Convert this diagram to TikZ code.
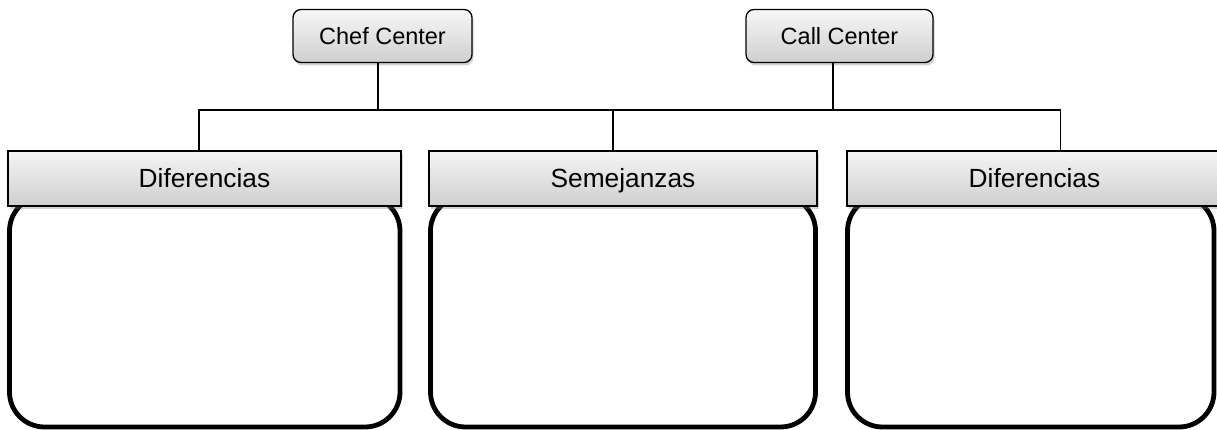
\documentclass[tikz,border=0pt]{standalone}
\usepackage{fontspec}
\setmainfont{Liberation Sans}
\usetikzlibrary{shadows,calc}
\begin{document}
\begin{tikzpicture}[x=1pt,y=-1pt,
  topbox/.style={draw=black, line width=1.3pt, rounded corners=8pt,
    top color=gray!6, bottom color=gray!38,
    drop shadow={shadow xshift=1.5pt, shadow yshift=-3pt, opacity=0.35},
    minimum width=179pt, minimum height=53pt, inner sep=0pt,
    text height=16.8pt, text depth=0pt,
    font=\fontsize{23.5}{27}\selectfont},
  headbox/.style={draw=black, line width=1.3pt,
    top color=gray!8, bottom color=gray!38,
    drop shadow={shadow xshift=1.5pt, shadow yshift=-3pt, opacity=0.35},
    minimum height=55pt, inner sep=0pt,
    text height=18.8pt, text depth=0pt,
    font=\fontsize{26.3}{30}\selectfont},
  contentbox/.style={draw=black, line width=4.8pt, rounded corners=35pt,
    fill=white, inner sep=0pt, minimum height=231pt},
  link/.style={draw=black, line width=1.5pt}]
\useasboundingbox (0,0) rectangle (1217,430);
\clip (0,0) rectangle (1217,430);

% top boxes
\node[topbox] (chef) at (382.5,36) {Chef Center};
\node[topbox, minimum width=187pt] (call) at (839.5,36) {Call Center};

% content boxes
\node[contentbox, minimum width=390.5pt] (c1) at (204.75,311.5) {};
\node[contentbox, minimum width=385pt] (c2) at (623,311.5) {};
\node[contentbox, minimum width=366.5pt] (c3) at (1030.75,311.5) {};

% header boxes
\node[headbox, minimum width=393pt] (h1) at (204.5,178.5) {Diferencias};
\node[headbox, minimum width=388pt] (h2) at (623,178.5) {Semejanzas};
\node[headbox, minimum width=375pt] (h3) at (1034.5,178.5) {Diferencias};

% connectors
\coordinate (bus) at (0,110);
\coordinate (d1) at ($(h1.north)+(-5.5,0)$);
\coordinate (d2) at ($(h2.north)+(-10,0)$);
\coordinate (d3) at ($(h3.north)+(26,0)$);
\coordinate (u1) at ($(chef.south)+(-4.5,0)$);
\coordinate (u2) at ($(call.south)+(-6.5,0)$);
\draw[link] (u1) -- (u1 |- bus);
\draw[link] (u2) -- (u2 |- bus);
\draw[link] (d1) -- (d1 |- bus) -- (d3 |- bus) -- (d3);
\draw[link] (d2 |- bus) -- (d2);
\end{tikzpicture}
\end{document}
